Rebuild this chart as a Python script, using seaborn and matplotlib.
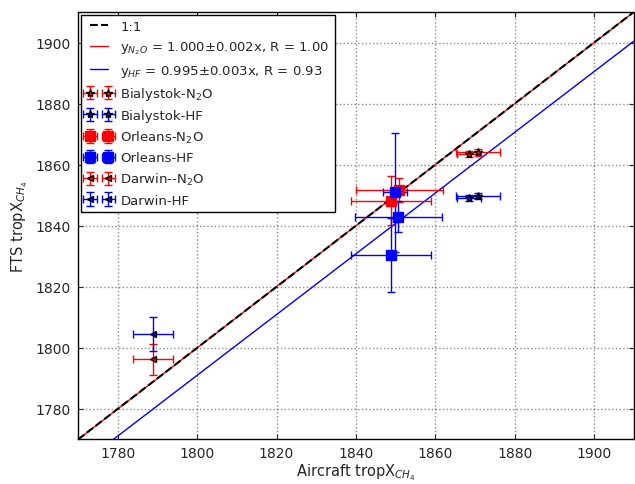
import matplotlib
matplotlib.use('Agg')
import matplotlib.pyplot as plt
import seaborn as sns
import numpy as np

sns.set_style('ticks')
plt.rcParams['font.family'] = ['DejaVu Sans']
plt.rcParams['mathtext.fontset'] = 'dejavusans'

bia_n2o_x = [1868.5, 1870.8]; bia_n2o_y = [1863.4, 1864.0]; bia_n2o_xe = [3.0, 5.5]; bia_n2o_ye = [1.0, 1.0]
bia_hf_x = [1868.5, 1870.8]; bia_hf_y = [1849.2, 1849.7]; bia_hf_xe = [3.0, 5.5]; bia_hf_ye = [1.0, 1.0]
orl_n2o_x = [1848.8, 1850.9]; orl_n2o_y = [1848.2, 1851.8]; orl_n2o_xe = [10.0, 11.0]; orl_n2o_ye = [8.0, 4.0]
orl_hf_x = [1849.9, 1850.7, 1848.8]; orl_hf_y = [1851.0, 1843.0, 1830.4]; orl_hf_xe = [3.0, 11.0, 10.0]; orl_hf_ye = [19.5, 5.0, 12.0]
dar_n2o_x = [1788.8]; dar_n2o_y = [1796.2]; dar_n2o_xe = [5.0]; dar_n2o_ye = [5.0]
dar_hf_x = [1788.8]; dar_hf_y = [1804.5]; dar_hf_xe = [5.0]; dar_hf_ye = [5.5]
slope_n2o = 1.000; slope_hf = 0.995

fig = plt.figure(figsize=(6.35, 4.85), dpi=100)
ax = fig.add_axes([0.123, 0.092, 0.875, 0.881])
xx = np.array([1770, 1910])
sns.lineplot(x=xx, y=xx, ax=ax, color='k', linestyle='--', lw=1.5, label='1:1', zorder=3)
sns.lineplot(x=xx, y=slope_n2o*xx, ax=ax, color='red', lw=1, label=r'y$_{N_2O}$ = 1.000$\pm$0.002x, R = 1.00', zorder=2)
sns.lineplot(x=xx, y=slope_hf*xx, ax=ax, color='blue', lw=1, label=r'y$_{HF}$ = 0.995$\pm$0.003x, R = 0.93', zorder=2)

def eb(x, y, xe, ye, c, m, ms, lab):
    ax.errorbar(x, y, xerr=xe, yerr=ye, fmt=m, color=c, mfc=c, mec='k' if m != 's' else c,
                ms=ms, capsize=3, elinewidth=1, ls='none', label=lab, zorder=4)

eb(bia_n2o_x, bia_n2o_y, bia_n2o_xe, bia_n2o_ye, 'red', '*', 6, 'Bialystok-N$_2$O')
eb(bia_hf_x, bia_hf_y, bia_hf_xe, bia_hf_ye, 'blue', '*', 6, 'Bialystok-HF')
eb(orl_n2o_x, orl_n2o_y, orl_n2o_xe, orl_n2o_ye, 'red', 's', 7, 'Orleans-N$_2$O')
eb(orl_hf_x, orl_hf_y, orl_hf_xe, orl_hf_ye, 'blue', 's', 7, 'Orleans-HF')
eb(dar_n2o_x, dar_n2o_y, dar_n2o_xe, dar_n2o_ye, 'red', '<', 5, 'Darwin--N$_2$O')
eb(dar_hf_x, dar_hf_y, dar_hf_xe, dar_hf_ye, 'blue', '<', 5, 'Darwin-HF')

ax.set_xlim(1770, 1910)
ax.set_ylim(1770, 1910)
ax.set_xticks(range(1780, 1901, 20))
ax.set_yticks(range(1780, 1901, 20))
ax.grid(True, color='k', linestyle=':', lw=1, alpha=0.45)
for s in ax.spines.values():
    s.set_color('k'); s.set_linewidth(1)
ax.tick_params(direction='in', top=True, right=True, labelsize=10, pad=5)
ax.set_xlabel(r'Aircraft tropX$_{CH_4}$', fontsize=10.5, labelpad=1)
ax.set_ylabel(r'FTS tropX$_{CH_4}$', fontsize=10.5, labelpad=4)
leg = ax.legend(loc='upper left', numpoints=2, fontsize=9.5, frameon=True, fancybox=False,
                edgecolor='k', framealpha=1, borderaxespad=0.2, handlelength=2.0, handletextpad=0.6)
fig.savefig('out.png', dpi=100)
